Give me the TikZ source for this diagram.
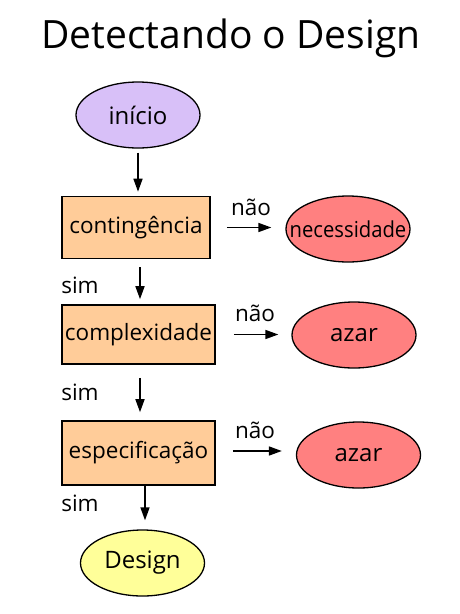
\documentclass[tikz,border=0pt]{standalone}
\usepackage{fontspec}
\setmainfont{Open Sans}
\usetikzlibrary{shapes.geometric,arrows.meta}
\definecolor{lav}{HTML}{D8C0F8}
\definecolor{peach}{HTML}{FFCC99}
\definecolor{rosy}{HTML}{FF8080}
\definecolor{yel}{HTML}{FFFF99}
\begin{document}
\begin{tikzpicture}[x=1pt,y=-1pt,
  txt/.style={font=\fontsize{22.5}{26}\selectfont, inner sep=0pt},
  oval/.style={ellipse, draw, line width=1.3pt, minimum width=124pt, minimum height=66pt, inner sep=0pt, font=\fontsize{24}{28}\selectfont},
  stepbox/.style={rectangle, draw, line width=1.6pt, fill=peach, minimum height=62pt, inner sep=0pt, font=\fontsize{22.5}{26}\selectfont},
  arr/.style={line width=1.6pt, -{Triangle[length=13pt,width=9pt]}}]
\useasboundingbox (0,0) rectangle (459,614);
\node[inner sep=0pt, font=\fontsize{39}{46}\selectfont] (title) at (231,38) {Detectando o Design};
\node[oval, fill=lav] (ini) at (138,115) {início};
\node[stepbox, minimum width=148pt] (c1) at (136,227.5) {contingência};
\node[oval, fill=rosy, label={[inner sep=0pt, font=\fontsize{22}{26}\selectfont]center:\scalebox{0.92}[1]{necessidade}}] (nec) at (348,229) {};
\node[stepbox, minimum width=153pt, minimum height=59pt] (c2) at (138.5,334.5) {complexidade};
\node[oval, fill=rosy] (az1) at (354,335) {azar};
\node[stepbox, minimum width=153pt, minimum height=64pt] (c3) at (138.5,453) {especificação};
\node[oval, fill=rosy] (az2) at (358.5,455) {azar};
\node[oval, fill=yel] (des) at (142.5,563) {Design};
% labels
\node[txt] (n1) at (251,207) {não};
\node[txt] (n2) at (255,313) {não};
\node[txt] (n3) at (255,430) {não};
\node[txt] (s1) at (80,285) {sim};
\node[txt] (s2) at (80,392) {sim};
\node[txt] (s3) at (80,503) {sim};
% arrows
\draw[arr, shorten <=4pt, shorten >=4pt] (ini.south) -- (ini.south |- c1.north);
\draw[arr, shorten <=8pt, shorten >=5pt] ([xshift=4pt]c1.south) -- ([xshift=1.5pt]c2.north);
\draw[arr, shorten <=13pt, shorten >=8pt] ([xshift=1.5pt]c2.south) -- ([xshift=1.5pt]c3.north);
\draw[arr, shorten <=0pt, shorten >=9pt] ([xshift=6.5pt]c3.south) -- ([xshift=2.5pt]des.north);
\draw[arr, shorten <=16pt, shorten >=14pt] (c1.east) -- (nec.west |- c1.east);
\draw[arr, shorten <=18pt, shorten >=13pt] (c2.east) -- (az1.west |- c2.east);
\draw[arr, shorten <=17pt, shorten >=14pt] ([yshift=2pt]c3.east) -- ([yshift=2pt]c3.east -| az2.west);
\end{tikzpicture}
\end{document}
